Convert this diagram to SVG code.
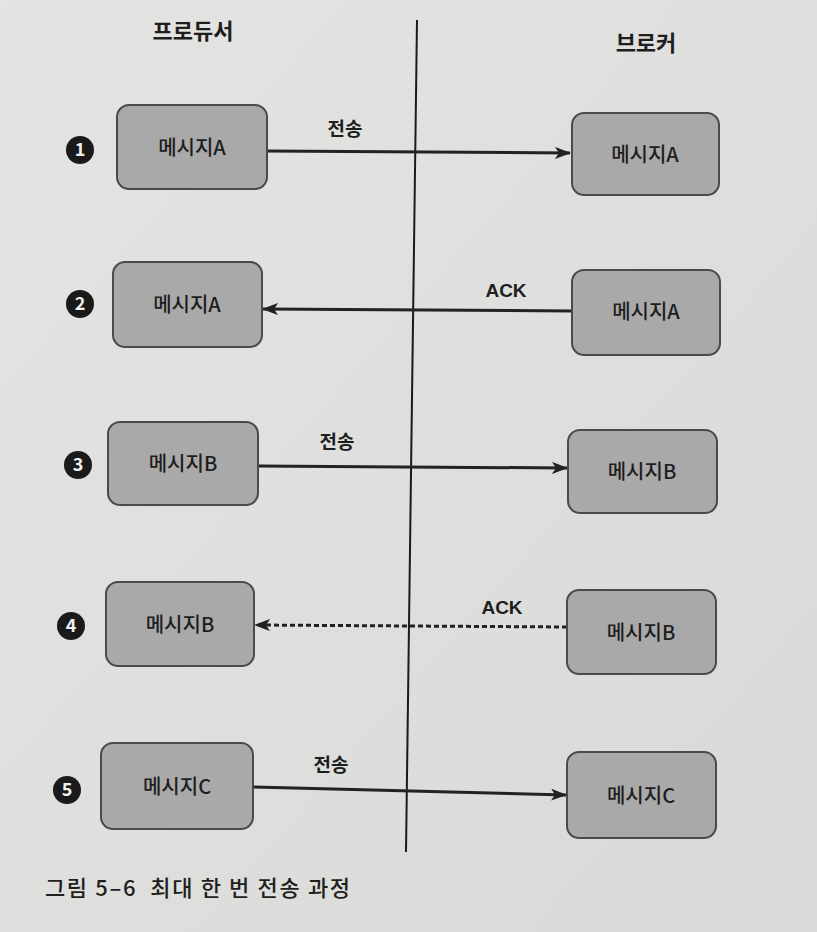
<svg xmlns="http://www.w3.org/2000/svg" width="817" height="932" viewBox="0 0 817 932">
<defs>
<style>
text{font-family:"Noto Sans CJK KR","Noto Sans",sans-serif;fill:#1e1e1e}
.box{fill:#a9a9a9;stroke:#4a4a4a;stroke-width:2}
.bt{font-size:20px;text-anchor:middle;font-weight:500}
.hd{font-size:22px;font-weight:700;text-anchor:middle}
.lb{font-size:19px;font-weight:700;text-anchor:middle}
.ar{stroke:#222;stroke-width:3;fill:none}
.num{fill:#1a1a1a}
.nt{font-size:18px;font-weight:700;fill:#f0f0f0;text-anchor:middle}
</style>
<marker id="ah" viewBox="0 0 16 12" refX="15" refY="6" markerWidth="16" markerHeight="12" markerUnits="userSpaceOnUse" orient="auto">
<path d="M0,0 L16,6 L0,12 L4,6 Z" fill="#222"/>
</marker>
<linearGradient id="bg" x1="0" y1="0" x2="1" y2="1">
<stop offset="0" stop-color="#e4e4e2"/>
<stop offset="1" stop-color="#d9d9d7"/>
</linearGradient>
</defs>
<rect width="817" height="932" fill="url(#bg)"/>
<text class="hd" x="193" y="39">프로듀서</text>
<text class="hd" x="646" y="51">브로커</text>
<g id="connectors">
<line x1="417" y1="20" x2="406" y2="852" stroke="#1a1a1a" stroke-width="2"/>
<line class="ar" x1="266" y1="151" x2="570" y2="153" marker-end="url(#ah)"/>
<line class="ar" x1="572" y1="311" x2="263" y2="309" marker-end="url(#ah)"/>
<line class="ar" x1="258" y1="466" x2="567" y2="468" marker-end="url(#ah)"/>
<line class="ar" x1="567" y1="627" x2="255" y2="625" stroke-dasharray="5,3" marker-end="url(#ah)"/>
<line class="ar" x1="253" y1="787" x2="566" y2="795" marker-end="url(#ah)"/>
<text class="lb" x="345" y="136">전송</text>
<text class="lb" x="506" y="297" style="font-family:'Liberation Sans',sans-serif">ACK</text>
<text class="lb" x="337" y="449">전송</text>
<text class="lb" x="502" y="614" style="font-family:'Liberation Sans',sans-serif">ACK</text>
<text class="lb" x="331" y="772">전송</text>
</g>
<g id="step1">
<circle class="num" cx="80" cy="150" r="14"/><text class="nt" x="80" y="156">1</text>
<g id="p1"><rect class="box" x="117" y="105" width="150" height="84" rx="12"/><text class="bt" x="192" y="155">메시지A</text></g>
<g id="b1"><rect class="box" x="572" y="113" width="147" height="82" rx="12"/><text class="bt" x="645" y="162">메시지A</text></g>
</g>
<g id="step2">
<circle class="num" cx="80" cy="304" r="14"/><text class="nt" x="80" y="310">2</text>
<g id="p2"><rect class="box" x="113" y="262" width="149" height="85" rx="12"/><text class="bt" x="187" y="312">메시지A</text></g>
<g id="b2"><rect class="box" x="572" y="270" width="148" height="85" rx="12"/><text class="bt" x="646" y="319">메시지A</text></g>
</g>
<g id="step3">
<circle class="num" cx="78" cy="465" r="14"/><text class="nt" x="78" y="471">3</text>
<g id="p3"><rect class="box" x="108" y="422" width="150" height="83" rx="12"/><text class="bt" x="183" y="471">메시지B</text></g>
<g id="b3"><rect class="box" x="568" y="430" width="149" height="83" rx="12"/><text class="bt" x="642" y="479">메시지B</text></g>
</g>
<g id="step4">
<circle class="num" cx="71" cy="626" r="14"/><text class="nt" x="71" y="632">4</text>
<g id="p4"><rect class="box" x="106" y="582" width="148" height="84" rx="12"/><text class="bt" x="180" y="632">메시지B</text></g>
<g id="b4"><rect class="box" x="567" y="590" width="149" height="84" rx="12"/><text class="bt" x="641" y="640">메시지B</text></g>
</g>
<g id="step5">
<circle class="num" cx="67" cy="790" r="14"/><text class="nt" x="67" y="796">5</text>
<g id="p5"><rect class="box" x="101" y="743" width="152" height="86" rx="12"/><text class="bt" x="177" y="794">메시지C</text></g>
<g id="b5"><rect class="box" x="567" y="752" width="149" height="86" rx="12"/><text class="bt" x="641" y="803">메시지C</text></g>
</g>
<text x="45" y="896" style="font-size:22px;font-weight:500" xml:space="preserve" textLength="305" lengthAdjust="spacing">그림 5–6  최대 한 번 전송 과정</text>
</svg>
